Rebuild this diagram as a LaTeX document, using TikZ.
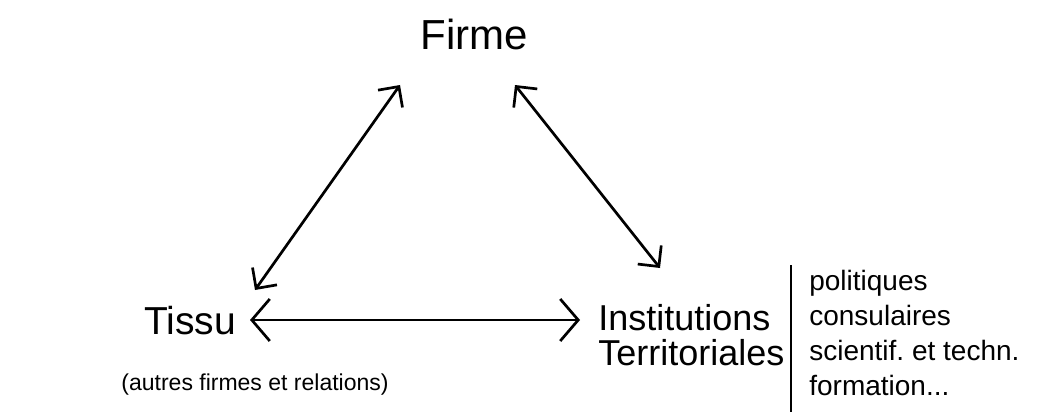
\documentclass[tikz,border=0pt]{standalone}
\usepackage{fontspec}
\setmainfont{Liberation Sans}
\usetikzlibrary{arrows.meta}
\frenchspacing

\begin{document}
\begin{tikzpicture}[x=1pt,y=-1pt,line width=2.7pt,
  big/.style={font=\fontsize{39}{35}\selectfont,inner sep=0pt},
  small/.style={font=\fontsize{23}{28}\selectfont,inner sep=0pt},
  item/.style={font=\fontsize{28}{30}\selectfont,inner sep=0pt},
  link/.style={{Straight Barb[length=15pt,width=30pt]}-{Straight Barb[length=15pt,width=30pt]}},
  hlink/.style={{Straight Barb[length=18pt,width=42pt]}-{Straight Barb[length=18pt,width=42pt]}}]
  \useasboundingbox (0,0) rectangle (1044,412);
  % ---------------- poles ----------------
  \node[big,font=\fontsize{42}{40}\selectfont,anchor=base] (firme) at (474,50) {Firme};
  \node[big,anchor=base] (tissu) at (190,334) {Tissu};
  \node[small,anchor=base] (autres) at (255,390) {(autres firmes et relations)};
  \node[big,font=\fontsize{36}{35}\selectfont,anchor=base west,align=left] (inst) at (597,365) {Institutions\\Territoriales};
  % ---------------- arrows ----------------
  \coordinate (firmeL) at (400,85);
  \coordinate (tissuU) at (255,290);
  \coordinate (firmeR) at (515,85);
  \coordinate (instU) at (660,268);
  \coordinate (tissuR) at (250,320);
  \coordinate (instL) at (580,320);
  \draw[link] (tissuU) -- (firmeL);
  \draw[link] (firmeR) -- (instU);
  \draw[hlink] (tissuR) -- (instL);
  % ---------------- list ----------------
  \coordinate (barT) at (791,265);
  \coordinate (barB) at (791,412);
  \draw[line width=2.2pt] (barT) -- (barB);
  \foreach \t [count=\i from 0] in {politiques,consulaires,{scientif. et techn.},{formation{.}{.}{.}}}{
    \node[item,anchor=base west] (item\i) at (808,290+\i*35.2) {\t};
  }
\end{tikzpicture}
\end{document}
